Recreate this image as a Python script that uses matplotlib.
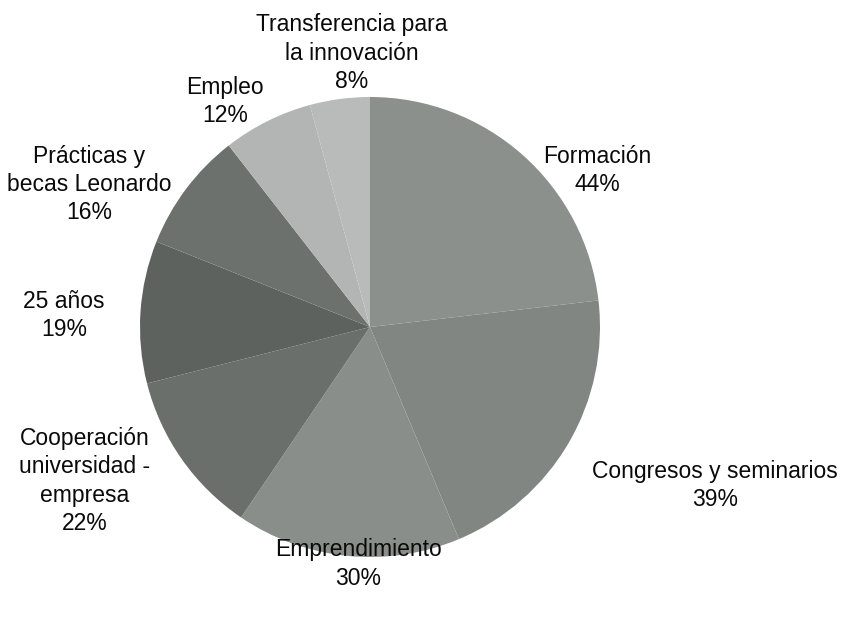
import matplotlib
matplotlib.use('Agg')
import matplotlib.pyplot as plt

plt.rcParams['font.family'] = ['Liberation Sans', 'DejaVu Sans']

# datos del gráfico
categorias = ['Formación', 'Congresos y seminarios', 'Emprendimiento',
              'Cooperación\nuniversidad -\nempresa', '25 años',
              'Prácticas y\nbecas Leonardo', 'Empleo',
              'Transferencia para\nla innovación']
valores = [44, 39, 30, 22, 19, 16, 12, 8]
colores = ['#8b908d', '#818683', '#898e8b', '#6b6f6c',
           '#5e625f', '#6d716e', '#b2b5b3', '#b8bbb9']

# posición de cada etiqueta (en radios del pastel)
pos_etiquetas = [(0.99, 0.68), (1.50, -0.69), (-0.05, -1.03), (-1.24, -0.67),
                 (-1.33, 0.05), (-1.22, 0.62), (-0.63, 0.98), (-0.08, 1.19)]

fig = plt.figure(figsize=(8.47, 6.17), dpi=100)
ax = fig.add_axes([0, 0, 1, 1])

ax.pie(valores, colors=colores, startangle=90, counterclock=False,
       radius=1, center=(0, 0), wedgeprops=dict(linewidth=0))

for cat, val, (x, y) in zip(categorias, valores, pos_etiquetas):
    ax.text(x, y, f"{cat}\n{val}%", ha='center', va='center',
            fontsize=16.5, color='#0a0a0a', linespacing=1.3)

ax.set_xlim(-370 / 230, 477 / 230)
ax.set_ylim(-290 / 230, 327 / 230)
ax.set_aspect('equal')
ax.axis('off')

plt.savefig('out.png', dpi=100, facecolor='white')
plt.close()
